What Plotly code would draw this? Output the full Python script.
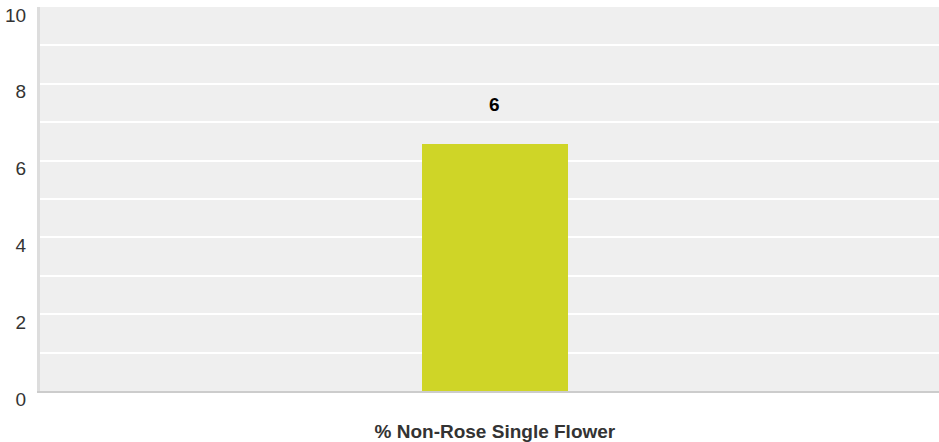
import plotly.graph_objects as go

categories = ["% Non-Rose Single Flower"]
values = [6.44]
value_labels = ["6"]
y_tick_vals = [0, 2, 4, 6, 8, 10]

fig = go.Figure()
fig.add_trace(go.Bar(
    x=categories, y=values, width=0.1624,
    marker=dict(color="#cfd527", line=dict(width=0)),
    hoverinfo="skip",
))

for c, v, t in zip(categories, values, value_labels):
    fig.add_annotation(x=c, y=v, text=t, showarrow=False, yanchor="middle", yshift=39,
                       font=dict(family="Liberation Sans, Arial", size=19, color="#000000", weight="bold"))

fig.update_layout(
    width=939, height=442, autosize=False,
    margin=dict(l=40, r=0, t=7, b=45),
    paper_bgcolor="#ffffff", plot_bgcolor="#efefef",
    showlegend=False, bargap=0,
    font=dict(family="Liberation Sans, Arial", size=19, color="#333333"),
)
fig.update_xaxes(
    type="category", range=[-0.506, 0.494],
    showgrid=False, zeroline=False,
    showline=True, linecolor="#cccccc", linewidth=2,
    ticks="", ticklabelstandoff=22,
    tickfont=dict(family="Liberation Sans, Arial", size=19, color="#333333", weight="bold"),
)
fig.update_yaxes(
    range=[0, 10], tickvals=y_tick_vals, showgrid=True, gridcolor="#ffffff", gridwidth=2,
    minor=dict(dtick=1, showgrid=True, gridcolor="#ffffff", gridwidth=2),
    zeroline=False, showline=True, linecolor="#dddddd", linewidth=3,
    ticks="", ticklabelshift=8, ticklabelstandoff=7,
    tickfont=dict(family="Liberation Sans, Arial", size=19, color="#333333"),
)

fig.write_html("out.html", config={"displayModeBar": False, "staticPlot": True},
               post_script="document.body.style.margin='0';document.body.style.overflow='hidden';")
